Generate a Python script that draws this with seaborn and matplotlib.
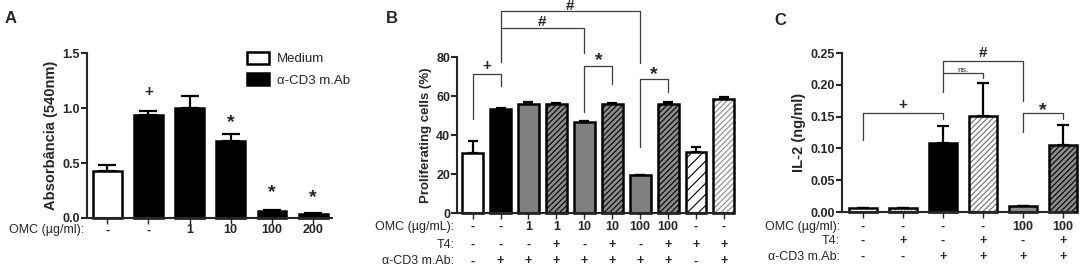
import numpy as np
import matplotlib
matplotlib.use("Agg")
import matplotlib.pyplot as plt
import seaborn as sns
from matplotlib.patches import Patch
from matplotlib.colors import to_rgba

# ---- data ----
# panel A
a_vals = [0.43, 0.935, 1.00, 0.70, 0.062, 0.038]
a_errs = [0.05, 0.04, 0.11, 0.065, 0.008, 0.006]
a_omc = ['-', '-', '1', '10', '100', '200']
a_face = ['white', 'black', 'black', 'black', 'black', 'black']
a_marks = ['', '+', '', '*', '*', '*']
a_mark_y = [0, 1.145, 0, 0.87, 0.23, 0.19]

# panel B
b_vals = [30.6, 53.3, 56.1, 55.8, 46.6, 55.8, 19.3, 56.0, 31.2, 58.5]
b_errs = [6.3, 0.4, 0.7, 0.6, 0.7, 0.7, 0.4, 0.7, 2.8, 1.1]
b_omc = ['-', '-', '1', '1', '10', '10', '100', '100', '-', '-']
b_t4 = ['-', '-', '-', '+', '-', '+', '-', '+', '+', '+']
b_cd3 = ['-', '+', '+', '+', '+', '+', '+', '+', '-', '+']
b_face = ['white', 'black', '#808080', '#8c8c8c', '#808080', '#8c8c8c',
          '#808080', '#8c8c8c', 'white', 'white']
b_hatch = ['', '', '', '//////', '', '//////', '', '//////', '///', '//////']
b_hcol = ['black', 'black', 'black', 'black', 'black', 'black', 'black',
          'black', 'black', '#8a8a8a']
# (left bar, right bar, top, left leg end, right leg end, label, label y)
b_brackets = [(0, 1, 71.3, 48.2, 65.1, '+', 75.4),
              (1, 6, 103.6, 77.6, 76.8, '#', 106.0),
              (1, 4, 94.7, 94.7, 81.9, '#', 97.8),
              (4, 5, 75.5, 51.8, 66.0, '*', 78.0),
              (6, 7, 68.7, 34.0, 61.9, '*', 71.2)]

# panel C
c_vals = [0.007, 0.006, 0.109, 0.151, 0.009, 0.106]
c_errs = [0.0, 0.0, 0.027, 0.052, 0.0, 0.031]
c_omc = ['-', '-', '-', '-', '100', '100']
c_t4 = ['-', '+', '-', '+', '-', '+']
c_cd3 = ['-', '-', '+', '+', '+', '+']
c_face = ['white', 'white', 'black', 'white', '#8c8c8c', '#8c8c8c']
c_hatch = ['', '.....', '', '//////', '', '//////']
c_hcol = ['black', '#9a9a9a', 'black', '#707070', 'black', 'black']
c_brackets = [(0, 2, 0.156, 0.114, 0.146, '+', 0.168),
              (2, 4, 0.238, 0.188, 0.175, '#', 0.25),
              (2, 3, 0.218, 0.218, 0.210, 'ns.', 0.223),
              (4, 5, 0.155, 0.126, 0.146, '*', 0.160)]

sns.set_style("ticks")
plt.rcParams['font.family'] = ['Liberation Sans', 'DejaVu Sans']
plt.rcParams['hatch.linewidth'] = 0.8

fig = plt.figure(figsize=(10.84, 2.66), dpi=100)
axA = fig.add_axes([0.0803, 0.1805, 0.226, 0.620])
axB = fig.add_axes([0.4216, 0.1992, 0.2537, 0.5865])
axC = fig.add_axes([0.7768, 0.2030, 0.2131, 0.5977])


def bars(ax, vals, errs, face, hatch=None, hcol=None, width=0.7, cap=4):
    n = len(vals)
    keys = [str(i) for i in range(n)]
    sns.barplot(x=keys, y=vals, hue=keys, palette=dict(zip(keys, face)),
                dodge=False, legend=False, width=width, errorbar=None,
                edgecolor='black', linewidth=1.8, saturation=1, ax=ax)
    if hatch is not None:
        for p, h, hc in zip(ax.patches, hatch, hcol):
            if h:
                p.set_hatch(h)
                p._hatch_color = to_rgba(hc)
    ax.errorbar(range(n), vals, yerr=[np.zeros(n), errs], fmt='none',
                ecolor='black', elinewidth=1.6, capsize=cap, capthick=1.6,
                zorder=1, clip_on=False)
    for p in ax.patches:
        p.set_zorder(2)
        p.set_clip_on(False)


def style(ax, ylim, yticks, fmt, xlim, ylabel, lsize):
    ax.set_xlim(*xlim)
    ax.set_ylim(*ylim)
    ax.set_yticks(yticks)
    ax.set_yticklabels([fmt % t for t in yticks], fontweight='bold', fontsize=9)
    ax.set_xticklabels([])
    ax.set_xlabel('')
    ax.set_ylabel(ylabel, fontweight='bold', fontsize=lsize, labelpad=3)
    sns.despine(ax=ax)
    for s in ['left', 'bottom']:
        ax.spines[s].set_linewidth(1.5)
    ax.tick_params(axis='y', length=4, width=1.5, pad=1)
    ax.tick_params(axis='x', length=4, width=1.0)


def rows(ax, labels, rowvals, ys):
    n = len(rowvals[0])
    for lab, vals, y in zip(labels, rowvals, ys):
        ax.text(-0.01, y, lab, transform=ax.transAxes, ha='right', va='center',
                fontsize=9)
        tr = ax.get_xaxis_transform()
        for i in range(n):
            ax.text(i, y, vals[i], transform=tr, ha='center', va='center',
                    fontsize=9, fontweight='bold')


def brackets(ax, specs):
    for x1, x2, top, l1, l2, lab, ty in specs:
        ax.plot([x1, x1, x2, x2], [l1, top, top, l2], color='#3c3c3c', lw=0.9,
                clip_on=False, zorder=3)
        if lab == 'ns.':
            size, weight = 6, 'normal'
        elif lab == '*':
            size, weight = 14, 'bold'
        else:
            size, weight = 11, 'bold'
        ax.text((x1 + x2) / 2, ty, lab, ha='center', va='center', fontsize=size,
                fontweight=weight, clip_on=False)


# ---- panel A ----
bars(axA, a_vals, a_errs, a_face, cap=6.5)
style(axA, (0, 1.5), [0, 0.5, 1.0, 1.5], '%.1f', (-0.49, 5.46),
      'Absorbância (540nm)', 10.5)
rows(axA, ['OMC (µg/ml):'], [a_omc], [-0.075])
for i, (m, y) in enumerate(zip(a_marks, a_mark_y)):
    if m:
        axA.text(i, y, m, ha='center', va='center',
                 fontsize=14 if m == '*' else 11, fontweight='bold')
handles = [Patch(facecolor='white', edgecolor='black', linewidth=1.8, label='Medium'),
           Patch(facecolor='black', edgecolor='black', linewidth=1.8, label='α-CD3 m.Ab')]
axA.legend(handles=handles, loc='upper left', bbox_to_anchor=(0.63, 1.04),
           frameon=False, fontsize=9.5, handlelength=1.7, handleheight=1.0,
           handletextpad=0.6, labelspacing=0.6, borderaxespad=0)

# ---- panel B ----
bars(axB, b_vals, b_errs, b_face, b_hatch, b_hcol, width=0.75, cap=3.5)
style(axB, (0, 80), [0, 20, 40, 60, 80], '%d', (-0.56, 9.29),
      'Proliferating cells (%)', 9.5)
rows(axB, ['OMC (µg/mL):', 'T4:', 'α-CD3 m.Ab:'], [b_omc, b_t4, b_cd3],
     [-0.09, -0.205, -0.31])
brackets(axB, b_brackets)

# ---- panel C ----
bars(axC, c_vals, c_errs, c_face, c_hatch, c_hcol, width=0.7, cap=4.5)
style(axC, (0, 0.25), [0, 0.05, 0.10, 0.15, 0.20, 0.25], '%.2f', (-0.52, 5.25),
      'IL-2 (ng/ml)', 10.5)
rows(axC, ['OMC (µg/ml):', 'T4:', 'α-CD3 m.Ab:'], [c_omc, c_t4, c_cd3],
     [-0.094, -0.182, -0.283])
brackets(axC, c_brackets)

# panel letters
fig.text(0.004, 0.96, 'A', fontsize=12, fontweight='bold', va='top')
fig.text(0.356, 0.96, 'B', fontsize=12, fontweight='bold', va='top')
fig.text(0.714, 0.95, 'C', fontsize=12, fontweight='bold', va='top')

fig.savefig('out.png', dpi=100)
